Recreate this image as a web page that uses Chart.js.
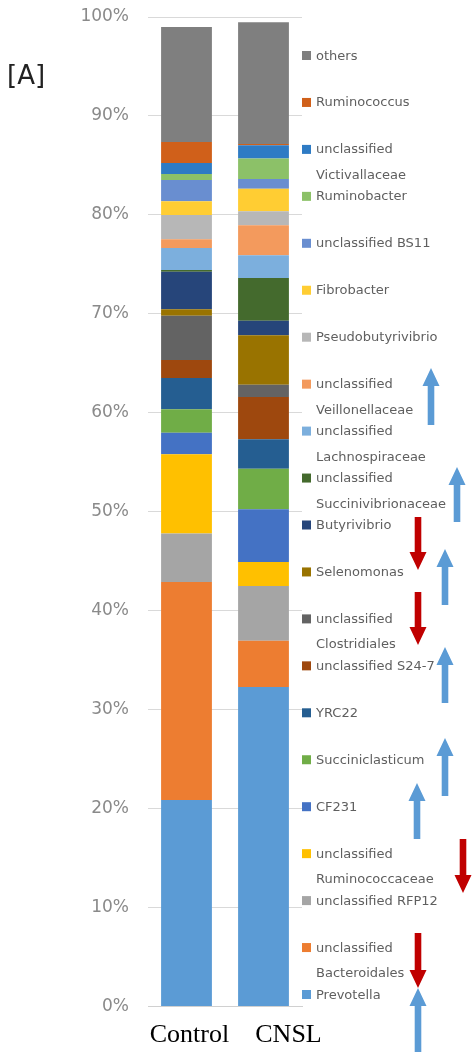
<!DOCTYPE html>
<html>
<head>
<meta charset="utf-8">
<script src="https://cdn.jsdelivr.net/npm/chart.js@4/dist/chart.umd.min.js"></script>
<style>
  body { margin: 0; background: #fff; }
</style>
</head>
<body>
<canvas id="barChart" width="473" height="1057"></canvas>
<script>
// groups on the x axis
var groups = ['Control', 'CNSL'];

// taxa, stacked from the bottom of the bar to the top
var taxa = ['Prevotella', 'unclassified Bacteroidales', 'unclassified RFP12', 'unclassified Ruminococcaceae',
    'CF231', 'Succiniclasticum', 'YRC22', 'unclassified S24-7', 'unclassified Clostridiales', 'Selenomonas',
    'Butyrivibrio', 'unclassified Succinivibrionaceae', 'unclassified Lachnospiraceae', 'unclassified Veillonellaceae',
    'Pseudobutyrivibrio', 'Fibrobacter', 'unclassified BS11', 'Ruminobacter', 'unclassified Victivallaceae',
    'Ruminococcus', 'others'];

// relative abundance (%), same order as taxa
var controlValues = [20.87, 22.03, 4.89, 8.01, 2.19, 2.36, 3.17, 1.82, 4.48, 0.64,
    3.80, 0.17, 2.22, 0.88, 2.46, 1.38, 2.15, 0.61, 1.11, 2.13, 11.63];
var cnslValues = [32.29, 4.68, 5.53, 2.42, 5.33, 4.10, 2.97, 4.28, 1.24, 4.99,
    1.48, 4.31, 2.30, 3.03, 1.41, 2.29, 0.98, 2.08, 1.32, 0.14, 12.29];

var taxaColors = ['#5b9bd5', '#ed7d31', '#a5a5a5', '#ffc000', '#4472c4', '#70ad47', '#255e91', '#9e480e',
    '#636363', '#997300', '#26457a', '#446a2d', '#7cafdd', '#f39a5d', '#b7b7b7', '#ffcd33', '#698ed0',
    '#8cc168', '#2e7bc4', '#d0601a', '#7f7f7f'];

// y axis ticks
var tickValues = [0, 10, 20, 30, 40, 50, 60, 70, 80, 90, 100];

// group labels sit a little right of their bars in the original
var groupLabelShift = [3, 25];

// up / down markers beside the legend
var arrows = [
    { x: 431, tip: 368, end: 425, up: true },
    { x: 457, tip: 467, end: 522, up: true },
    { x: 418, tip: 570, end: 517, up: false },
    { x: 445, tip: 549, end: 605, up: true },
    { x: 418, tip: 645, end: 592, up: false },
    { x: 445, tip: 647, end: 703, up: true },
    { x: 445, tip: 738, end: 796, up: true },
    { x: 417, tip: 783, end: 839, up: true },
    { x: 463, tip: 893, end: 839, up: false },
    { x: 418, tip: 988, end: 933, up: false },
    { x: 418, tip: 988, end: 1052, up: true }
];

var datasets = [];
for (var i = 0; i < taxa.length; i++) {
    datasets.push({
        label: taxa[i],
        data: [controlValues[i], cnslValues[i]],
        backgroundColor: taxaColors[i],
        borderWidth: 0,
        barPercentage: 0.66,
        categoryPercentage: 1
    });
}

function wrapText(ctx, text, maxWidth) {
    if (ctx.measureText(text).width <= maxWidth) return [text];
    var sp = text.indexOf(' ');
    return [text.substring(0, sp), text.substring(sp + 1)];
}

var sidePlugin = {
    id: 'sidePlugin',
    afterDraw: function (chart) {
        var ctx = chart.ctx;
        ctx.save();

        // panel label
        ctx.fillStyle = '#222';
        ctx.font = '26px "DejaVu Sans"';
        ctx.textBaseline = 'middle';
        ctx.textAlign = 'left';
        ctx.fillText('[A]', 7, 77);

        // group names under the bars
        var xs = chart.scales.x;
        ctx.fillStyle = '#000';
        ctx.font = '26px "Liberation Serif"';
        ctx.textAlign = 'center';
        chart.data.labels.forEach(function (lab, n) {
            ctx.fillText(lab, xs.getPixelForValue(n) + groupLabelShift[n], 1035);
        });

        // legend, top item first
        ctx.textAlign = 'left';
        ctx.font = '13px "DejaVu Sans"';
        ctx.textBaseline = 'alphabetic';
        var ds = chart.data.datasets;
        for (var k = 0; k < ds.length; k++) {
            var item = ds[ds.length - 1 - k];
            var y = 55 + k * 46.95;
            ctx.fillStyle = item.backgroundColor;
            ctx.fillRect(302, y - 4, 9, 9);
            ctx.fillStyle = '#5f5f5f';
            var lines = wrapText(ctx, item.label, 150);
            for (var j = 0; j < lines.length; j++) {
                ctx.fillText(lines[j], 316, y + 4.5 + j * 25.5);
            }
        }

        // arrows
        arrows.forEach(function (a) {
            var dir = a.up ? 1 : -1;
            var headLen = 18, headW = 8.5, shaftW = 3.3;
            ctx.fillStyle = a.up ? '#5b9bd5' : '#c00000';
            ctx.beginPath();
            ctx.moveTo(a.x, a.tip);
            ctx.lineTo(a.x + headW, a.tip + dir * headLen);
            ctx.lineTo(a.x + shaftW, a.tip + dir * headLen);
            ctx.lineTo(a.x + shaftW, a.end);
            ctx.lineTo(a.x - shaftW, a.end);
            ctx.lineTo(a.x - shaftW, a.tip + dir * headLen);
            ctx.lineTo(a.x - headW, a.tip + dir * headLen);
            ctx.closePath();
            ctx.fill();
        });

        ctx.restore();
    }
};

new Chart(document.getElementById('barChart').getContext('2d'), {
    type: 'bar',
    data: {
        labels: groups,
        datasets: datasets
    },
    options: {
        responsive: false,
        animation: false,
        layout: {
            padding: { top: 17, right: 171, left: 0, bottom: 0 }
        },
        plugins: {
            legend: { display: false },
            tooltip: { enabled: false }
        },
        scales: {
            x: {
                stacked: true,
                grid: { display: false, drawTicks: false },
                border: { color: '#d0d0d0', width: 1 },
                ticks: { display: false },
                afterFit: function (scale) { scale.height = 50.5; }
            },
            y: {
                stacked: true,
                min: 0,
                max: 100,
                afterBuildTicks: function (scale) {
                    scale.ticks = tickValues.map(function (v) { return { value: v }; });
                },
                grid: { color: '#d9d9d9', drawTicks: false },
                border: { display: false },
                ticks: {
                    color: '#8a8a8a',
                    padding: 19,
                    font: { family: '"DejaVu Sans"', size: 17 },
                    callback: function (v) { return v + '%'; }
                },
                afterFit: function (scale) {
                    scale.width = 148;
                    scale.paddingTop = 0;
                    scale.paddingBottom = 0;
                }
            }
        }
    },
    plugins: [sidePlugin]
});
</script>
</body>
</html>
